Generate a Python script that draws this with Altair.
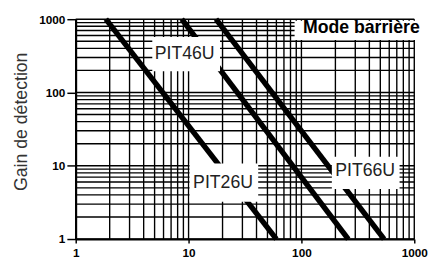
import altair as alt
import pandas as pd

# ---- data ----
series = ["PIT26U", "PIT46U", "PIT66U"]
x_at_gain_1000 = [1.85, 8.7, 17.5]
x_at_gain_1 = [60, 260, 540]
gain_top = 1000
gain_bottom = 1

label_x = [20.2, 9.23, 367]
label_y = [5.8, 329, 8.39]
box_x1 = [10.2, 4.77, 186]
box_x2 = [41.4, 19.0, 741]
box_y1 = [3.23, 194.5, 4.82]
box_y2 = [10.7, 572, 13.3]

title_text = ["Mode barrière"]
title_x = [340]
title_y = [755]
title_box_x1 = [87]
title_box_x2 = [1030]
title_box_y1 = [522]
title_box_y2 = [952]

tick_values = [1, 10, 100, 1000]
grid_values = [1, 2, 3, 4, 5, 6, 7, 8, 9,
               10, 20, 30, 40, 50, 60, 70, 80, 90,
               100, 200, 300, 400, 500, 600, 700, 800, 900,
               1000]

FONT = "Liberation Sans"

# ---- tables ----
rows = []
for s, xt, xb in zip(series, x_at_gain_1000, x_at_gain_1):
    rows.append({"serie": s, "d": xt, "g": gain_top})
    rows.append({"serie": s, "d": xb, "g": gain_bottom})
lines_df = pd.DataFrame(rows)
labels_df = pd.DataFrame({"serie": series, "x": label_x, "y": label_y,
                          "x1": box_x1, "x2": box_x2, "y1": box_y1, "y2": box_y2})
title_df = pd.DataFrame({"t": title_text, "x": title_x, "y": title_y,
                         "x1": title_box_x1, "x2": title_box_x2,
                         "y1": title_box_y1, "y2": title_box_y2})
grid_df = pd.DataFrame({"v": grid_values})

xs = alt.Scale(type="log", domain=[1, 1000], nice=False)
ys = alt.Scale(type="log", domain=[1, 1000], nice=False)

xaxis = alt.Axis(values=tick_values, format="d", title=None, grid=False,
                 labelFont=FONT, labelFontSize=12, labelFontWeight="bold",
                 labelColor="black", labelPadding=5, labelFlush=False,
                 tickSize=4, tickColor="black", tickWidth=1.5,
                 domainColor="black", domainWidth=2)
yaxis = alt.Axis(values=tick_values, format="d", title="Gain de détection", grid=False,
                 labelFont=FONT, labelFontSize=12, labelFontWeight="bold",
                 labelColor="black", labelPadding=2, labelFlush=False,
                 tickSize=9, tickColor="black", tickWidth=1.5,
                 domainColor="black", domainWidth=2,
                 titleFont=FONT, titleFontSize=18, titleFontWeight="normal",
                 titleColor="#333333", titlePadding=8, titleY=104)


def X(f):
    return alt.X(f, scale=xs, axis=xaxis)


def Y(f):
    return alt.Y(f, scale=ys, axis=yaxis)


vgrid = alt.Chart(grid_df).mark_rule(color="black", strokeWidth=1.4).encode(x=X("v:Q"))
hgrid = alt.Chart(grid_df).mark_rule(color="black", strokeWidth=1.4).encode(y=Y("v:Q"))

lines = alt.Chart(lines_df).mark_line(color="black", strokeWidth=5.5, strokeCap="butt").encode(
    x=X("d:Q"), y=Y("g:Q"), detail="serie:N")

boxes = alt.Chart(labels_df).mark_rect(color="white").encode(
    x=X("x1:Q"), x2="x2:Q", y=Y("y1:Q"), y2="y2:Q")
texts = alt.Chart(labels_df).mark_text(font=FONT, fontSize=18, color="#222222",
                                       align="center", baseline="middle").encode(
    x=X("x:Q"), y=Y("y:Q"), text="serie:N")

tbox = alt.Chart(title_df).mark_rect(color="white").encode(
    x=X("x1:Q"), x2="x2:Q", y=Y("y1:Q"), y2="y2:Q")
ttext = alt.Chart(title_df).mark_text(font=FONT, fontSize=18, fontWeight="bold", color="black",
                                      align="center", baseline="middle").encode(
    x=X("x:Q"), y=Y("y:Q"), text="t:N")

chart = alt.layer(vgrid, hgrid, lines, boxes, texts, tbox, ttext).properties(
    width=345, height=224,
    autosize=alt.AutoSizeParams(type="none"),
    padding={"left": 69, "top": 9, "right": 15, "bottom": 22},
    background="white",
).configure_view(stroke=None)

chart.save("out.html", embed_options={"renderer": "svg", "actions": False})
